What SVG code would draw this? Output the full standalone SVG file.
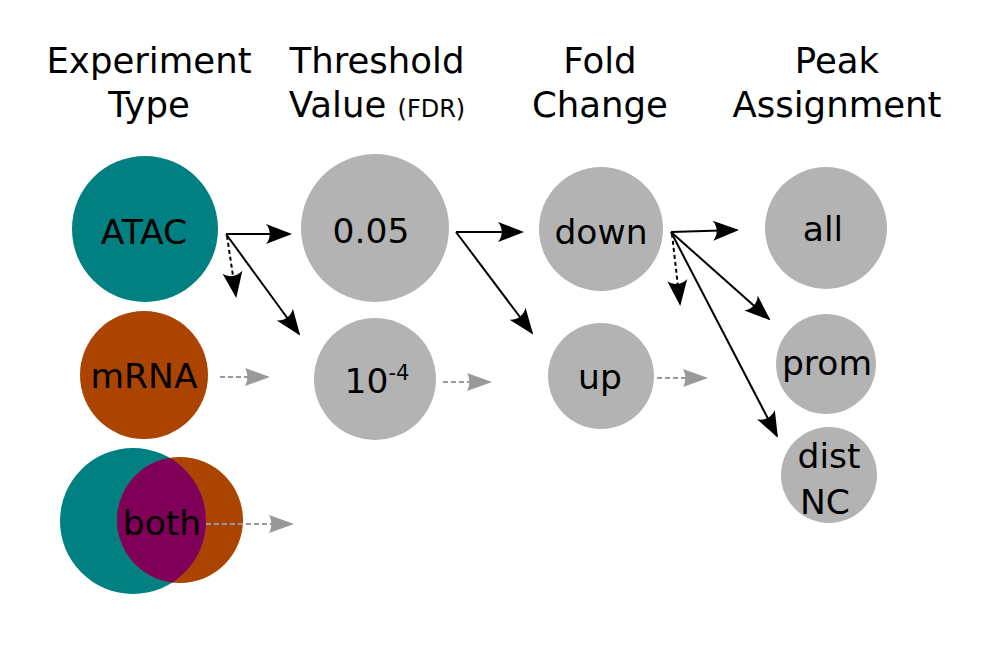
<svg xmlns="http://www.w3.org/2000/svg" width="1000" height="664" viewBox="0 0 1000 664">
<style>
text{font-family:"DejaVu Sans","Liberation Sans",sans-serif;fill:#000;text-anchor:middle}
.h{font-size:35.5px}
.n{font-size:34.5px}
.g{fill:#b3b3b3}
.k{stroke:#000;stroke-width:2;fill:none}
.kd{stroke:#000;stroke-width:2;fill:none;stroke-dasharray:4,3}
.gd{stroke:#999;stroke-width:2;fill:none;stroke-dasharray:5,3}
</style>
<defs>
<marker id="ak" markerUnits="userSpaceOnUse" orient="auto" markerWidth="32" markerHeight="26" viewBox="-28 -13 32 26" refX="0" refY="0">
<path d="M2,0 L-24,-10 C-19,-4 -19,4 -24,10 Z" fill="#000"/>
</marker>
<marker id="ag" markerUnits="userSpaceOnUse" orient="auto" markerWidth="32" markerHeight="26" viewBox="-28 -13 32 26" refX="0" refY="0">
<path d="M2,0 L-23,-9 C-20,-4 -20,4 -23,9 Z" fill="#999"/>
</marker>
<clipPath id="orangeClip"><circle cx="180" cy="520" r="63"/></clipPath>
</defs>
<g id="headers">
<text class="h" x="149" y="73">Experiment</text>
<text class="h" x="149" y="117">Type</text>
<text class="h" x="377" y="73">Threshold</text>
<text class="h" x="377" y="117">Value <tspan font-size="24px">(FDR)</tspan></text>
<text class="h" x="600" y="73">Fold</text>
<text class="h" x="600" y="117">Change</text>
<text class="h" x="837" y="73">Peak</text>
<text class="h" x="837" y="117">Assignment</text>
</g>
<g id="node-atac">
<circle cx="145" cy="229" r="73" fill="#008080"/>
<text class="n" x="144" y="244">ATAC</text>
</g>
<g id="node-mrna">
<circle cx="144" cy="375" r="64" fill="#aa4400"/>
<text class="n" x="144" y="388">mRNA</text>
</g>
<g id="node-both">
<circle cx="133" cy="521" r="73" fill="#008080"/>
<circle cx="180" cy="520" r="63" fill="#aa4400"/>
<circle cx="133" cy="521" r="73" fill="#800059" clip-path="url(#orangeClip)"/>
<text class="n" x="162" y="535">both</text>
</g>
<g id="node-005">
<circle class="g" cx="375" cy="228" r="74"/>
<text class="n" x="371" y="243">0.05</text>
</g>
<g id="node-1e4">
<circle class="g" cx="375" cy="379" r="61"/>
<text class="n" x="377" y="393">10<tspan font-size="21px" dy="-13">-4</tspan></text>
</g>
<g id="node-down">
<circle class="g" cx="601" cy="229" r="62"/>
<text class="n" x="601" y="244">down</text>
</g>
<g id="node-up">
<circle class="g" cx="601" cy="376" r="53"/>
<text class="n" x="600" y="389">up</text>
</g>
<g id="node-all">
<circle class="g" cx="826" cy="228" r="61"/>
<text class="n" x="823" y="241">all</text>
</g>
<g id="node-prom">
<circle class="g" cx="826" cy="364" r="50"/>
<text class="n" x="827" y="375">prom</text>
</g>
<g id="node-distnc">
<circle class="g" cx="829" cy="475" r="48"/>
<text class="n" x="829" y="468">dist</text>
<text class="n" x="825" y="514">NC</text>
</g>
<g id="connectors">
<line class="k" x1="226" y1="234" x2="290" y2="234" marker-end="url(#ak)"/>
<line class="k" x1="226" y1="234" x2="299" y2="334" marker-end="url(#ak)"/>
<line class="kd" x1="227" y1="236" x2="236" y2="296" marker-end="url(#ak)"/>
<line class="k" x1="456" y1="232" x2="522" y2="232" marker-end="url(#ak)"/>
<line class="k" x1="456" y1="232" x2="532" y2="333" marker-end="url(#ak)"/>
<line class="k" x1="671" y1="232" x2="737" y2="230" marker-end="url(#ak)"/>
<line class="kd" x1="672" y1="234" x2="680" y2="304" marker-end="url(#ak)"/>
<line class="k" x1="671" y1="232" x2="769" y2="319" marker-end="url(#ak)"/>
<line class="k" x1="671" y1="232" x2="777" y2="436" marker-end="url(#ak)"/>
<line class="gd" x1="220" y1="377" x2="268" y2="377" marker-end="url(#ag)"/>
<line class="gd" x1="443" y1="382" x2="490" y2="382" marker-end="url(#ag)"/>
<line class="gd" x1="657" y1="378" x2="706" y2="378" marker-end="url(#ag)"/>
<line class="gd" x1="206" y1="524" x2="292" y2="524" marker-end="url(#ag)"/>
</g>
</svg>
